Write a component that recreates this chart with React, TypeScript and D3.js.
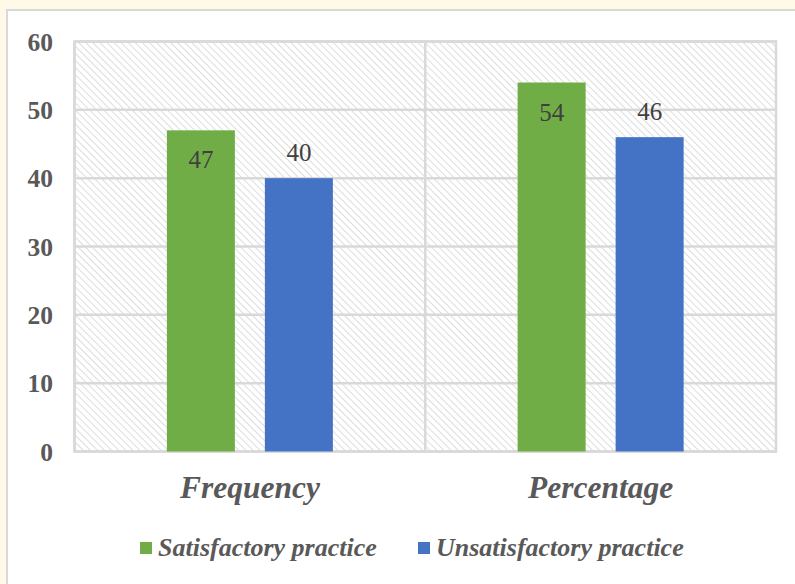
import React from "react";
import * as d3 from "d3";

const categories = ["Frequency", "Percentage"];
const seriesNames = ["Satisfactory practice", "Unsatisfactory practice"];
const satisfactory = [47, 54];
const unsatisfactory = [40, 46];
const yTicks = [0, 10, 20, 30, 40, 50, 60];
const colors = ["#70AD47", "#4472C4"];

export default function App() {
  const W = 795, H = 584;
  const left = 74.5, right = 776, top = 41.5, bottom = 451.5;
  const x = d3.scaleBand<string>().domain(categories).range([left, right]).paddingInner(0).paddingOuter(0);
  const y = d3.scaleLinear().domain([0, 60]).range([bottom, top]);
  const barW = 68, gap = 30;
  const series = [satisfactory, unsatisfactory];
  const serif = "'Liberation Serif', 'Times New Roman', serif";
  return (
    <svg width={W} height={H} style={{ position: "absolute", left: 0, top: 0 }} xmlns="http://www.w3.org/2000/svg">
      <defs>
        <pattern id="hatch" width="5" height="5" patternUnits="userSpaceOnUse" patternTransform="rotate(-45)">
          <rect width="5" height="5" fill="#ffffff" />
          <line x1="0" y1="0" x2="0" y2="5" stroke="#d9d9d9" strokeWidth="1.8" />
        </pattern>
      </defs>
      <rect x={0} y={0} width={W} height={H} fill="#FFFAE8" />
      <rect x={7} y={10} width={W} height={H} fill="#ffffff" stroke="#d9d9d9" strokeWidth={2} />
      <rect x={left} y={top} width={right - left} height={bottom - top} fill="url(#hatch)" />
      {yTicks.map((t) => (
        <line key={t} x1={left} x2={right} y1={y(t)} y2={y(t)} stroke="#d9d9d9" strokeWidth={2.5} />
      ))}
      {categories.map((c) => (
        <line key={c} x1={x(c)!} x2={x(c)!} y1={top} y2={bottom} stroke="#d9d9d9" strokeWidth={2.5} />
      ))}
      <rect x={left} y={top} width={right - left} height={bottom - top} fill="none" stroke="#d9d9d9" strokeWidth={2.5} />
      {categories.map((c, ci) => {
        const cx = x(c)! + x.bandwidth() / 2;
        return series.map((s, si) => {
          const bx = cx - gap / 2 - barW + si * (barW + gap);
          const v = s[ci];
          const ly = si === 0 ? y(v) + 38 : y(v) - 17;
          return (
            <g key={c + si}>
              <rect x={bx} y={y(v)} width={barW} height={bottom - y(v)} fill={colors[si]} />
              <text x={bx + barW / 2} y={ly} textAnchor="middle" fontFamily={serif} fontSize={25} fill="#404040">{v}</text>
            </g>
          );
        });
      })}
      {yTicks.map((t) => (
        <text key={t} x={53} y={y(t) + 9} textAnchor="end" fontFamily={serif} fontWeight="bold" fontSize={25.5} fill="#595959">{t}</text>
      ))}
      {categories.map((c) => (
        <text key={c} x={x(c)! + x.bandwidth() / 2} y={498} textAnchor="middle" fontFamily={serif} fontWeight="bold" fontStyle="italic" fontSize={31.5} fill="#595959">{c}</text>
      ))}
      {seriesNames.map((n, i) => {
        const lx = i === 0 ? 140 : 418;
        return (
          <g key={n}>
            <rect x={lx} y={542} width={12} height={12} fill={colors[i]} />
            <text x={lx + 18} y={556} fontFamily={serif} fontWeight="bold" fontStyle="italic" fontSize={26} fill="#595959">{n}</text>
          </g>
        );
      })}
    </svg>
  );
}
